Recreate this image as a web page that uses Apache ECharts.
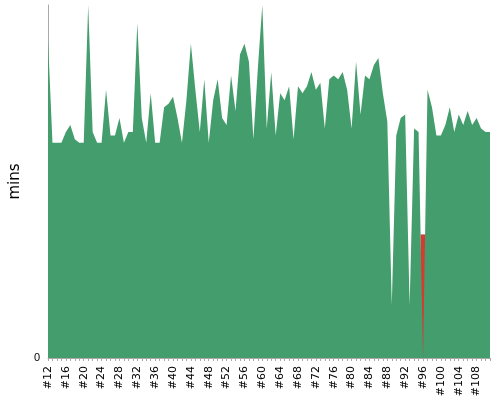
<!DOCTYPE html>
<html>
<head>
<meta charset="utf-8">
<script src="https://cdn.jsdelivr.net/npm/echarts@6/dist/echarts.min.js"></script>
<style>html,body{margin:0;padding:0}#chart{width:500px;height:400px}</style>
</head>
<body>
<div id="chart"></div>
<script>
const categories = []
for (let i = 12; i <= 111; i++) categories.push('#' + i)

const mins = [
  90, 61, 61, 61, 64, 66, 62, 61, 61, 100,
  64, 61, 61, 76, 63, 63, 68, 61, 64, 64,
  95, 68, 61, 75, 61, 61, 71, 72, 74, 68,
  61, 73, 89, 76, 64, 79, 61, 73, 79, 68,
  66, 80, 70, 86, 89, 84, 62, 82, 100, 65,
  81, 63, 75, 73, 77, 62, 77, 75, 77, 81,
  76, 78, 65, 79, 80, 79, 81, 76, 65, 84,
  69, 80, 79, 83, 85, 75, 67, 15, 63, 68,
  69, 15, 65, 64, 0, 76, 71, 63, 63, 66,
  71, 64, 69, 66, 70, 66, 68, 65, 64, 64
]
const failed = categories.map(c => (c === '#96' ? 35 : '-'))

const chart = echarts.init(document.getElementById('chart'))
chart.setOption({
  animation: false,
  grid: { left: 43, right: 10, top: 5, bottom: 42 },
  xAxis: {
    type: 'category',
    data: categories,
    boundaryGap: false,
    axisLine: { lineStyle: { color: '#aaa' } },
    axisTick: { interval: 0, length: 3, lineStyle: { color: '#aaa' } },
    axisLabel: { rotate: 90, interval: 3, color: '#000', fontSize: 11, fontFamily: 'DejaVu Sans' }
  },
  yAxis: {
    type: 'value',
    min: 0,
    max: 100,
    interval: 100,
    name: 'mins',
    nameLocation: 'middle',
    nameGap: 24,
    nameTextStyle: { fontSize: 15, color: '#000', fontFamily: 'DejaVu Sans' },
    axisLine: { show: true, lineStyle: { color: '#aaa' } },
    axisTick: { show: false },
    splitLine: { show: false },
    axisLabel: { color: '#000', fontSize: 11, formatter: v => (v === 0 ? '0' : '') }
  },
  series: [
    {
      type: 'bar',
      data: failed,
      barWidth: 5,
      itemStyle: { color: '#d63a32' },
      z: 1
    },
    {
      type: 'line',
      data: mins,
      symbol: 'none',
      lineStyle: { width: 0 },
      areaStyle: { color: '#449d6c', opacity: 1 },
      z: 2
    }
  ]
})
</script>
</body>
</html>
